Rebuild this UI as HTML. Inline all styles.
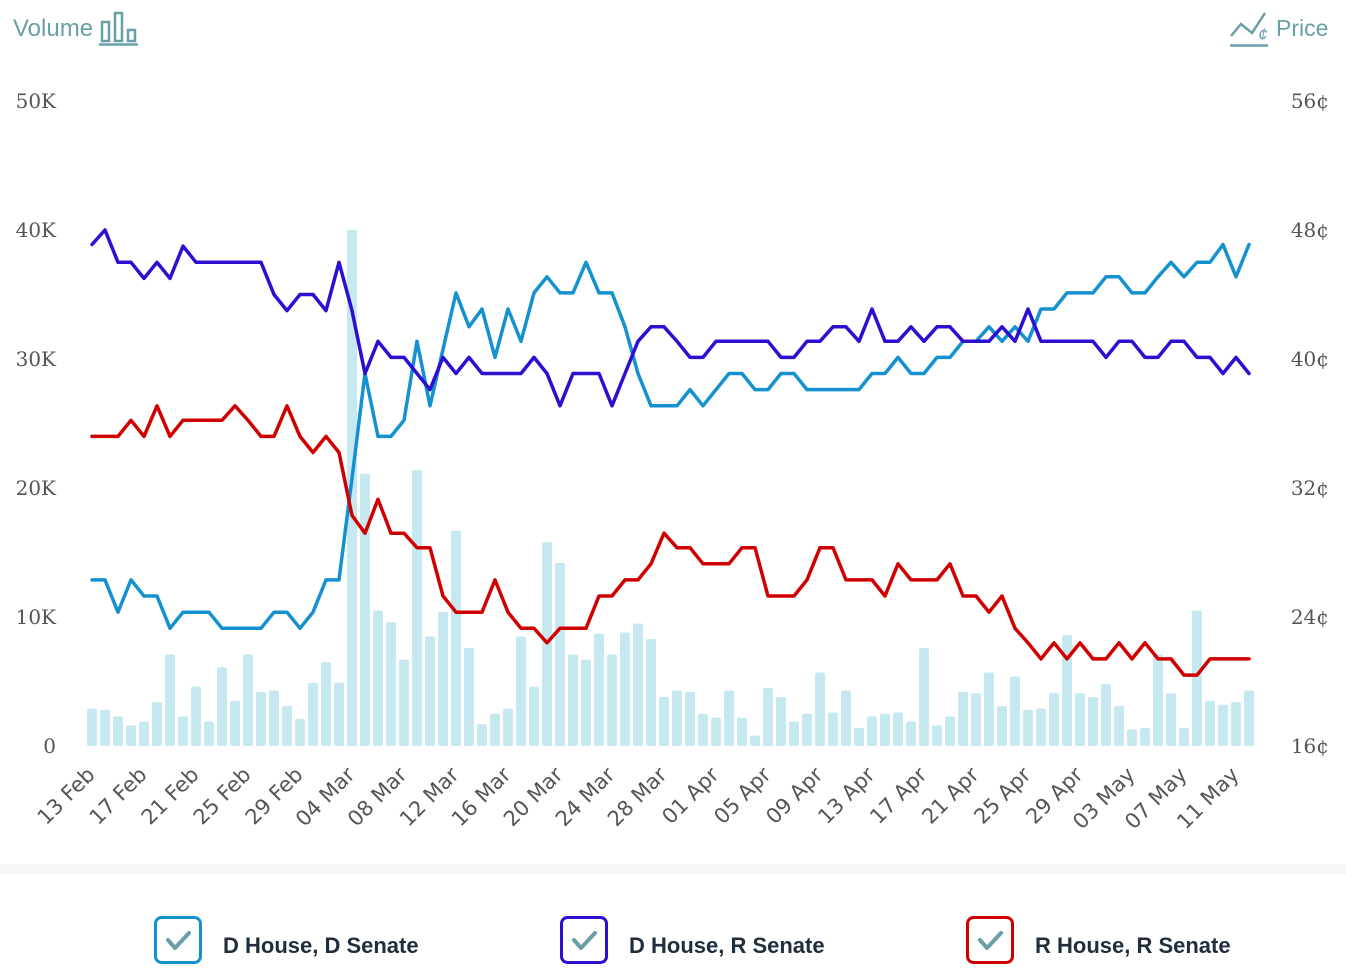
<!DOCTYPE html>
<html><head><meta charset="utf-8"><style>
html,body{margin:0;padding:0;background:#fff;width:1346px;height:978px;overflow:hidden;font-family:"Liberation Sans",sans-serif}
</style></head><body>
<svg id="chart" width="1346" height="978" viewBox="0 0 1346 978" xmlns="http://www.w3.org/2000/svg" font-family="Liberation Sans, sans-serif">
  <g>
    <text x="13" y="36" font-size="24" fill="#6a9fa8">Volume</text>
    <g fill="none" stroke="#6a9fa8" stroke-width="2.5">
      <rect x="102" y="22" width="7" height="19"/><rect x="115" y="13" width="7" height="28"/><rect x="128" y="30" width="7" height="11"/>
      <line x1="99" y1="44.5" x2="138" y2="44.5"/>
    </g>
  </g>
  <g>
    <g fill="none" stroke="#6a9fa8" stroke-width="2.5">
      <polyline points="1231,36 1241,24 1252,33 1265,13"/>
      <line x1="1230" y1="45.5" x2="1268" y2="45.5"/>
    </g>
    <text x="1258" y="40" font-size="17" fill="#6a9fa8" font-style="italic">¢</text>
    <text x="1276" y="36" font-size="23" fill="#6a9fa8">Price</text>
  </g>
  <g id="yLeft"></g>
  <g id="yRight"></g>
  <g id="bars"></g>
  <g id="lines"></g>
  <g id="xAxis"></g>
  <rect x="0" y="864" width="1346" height="10" fill="#f6f7f9"/>
  <g>
    <rect x="155.5" y="917.5" width="45" height="45" rx="6" fill="#fff" stroke="#1591d0" stroke-width="3"/>
    <polyline points="168,940 175,948 189,933" fill="none" stroke="#6a9fa8" stroke-width="4" stroke-linecap="round" stroke-linejoin="round"/>
    <text x="223" y="953" font-size="22" font-weight="bold" fill="#1f2d3d">D House, D Senate</text>
  </g>
  <g>
    <rect x="561.5" y="917.5" width="45" height="45" rx="6" fill="#fff" stroke="#2c0fd1" stroke-width="3"/>
    <polyline points="574,940 581,948 595,933" fill="none" stroke="#6a9fa8" stroke-width="4" stroke-linecap="round" stroke-linejoin="round"/>
    <text x="629" y="953" font-size="22" font-weight="bold" fill="#1f2d3d">D House, R Senate</text>
  </g>
  <g>
    <rect x="967.5" y="917.5" width="45" height="45" rx="6" fill="#fff" stroke="#d00000" stroke-width="3"/>
    <polyline points="980,940 987,948 1001,933" fill="none" stroke="#6a9fa8" stroke-width="4" stroke-linecap="round" stroke-linejoin="round"/>
    <text x="1035" y="953" font-size="22" font-weight="bold" fill="#1f2d3d">R House, R Senate</text>
  </g>
</svg>
<script>
const startDate = [2024, 1, 13];
const volumeK = [2.9,2.8,2.3,1.6,1.9,3.4,7.1,2.3,4.6,1.9,6.1,3.5,7.1,4.2,4.3,3.1,2.1,4.9,6.5,4.9,40.0,21.1,10.5,9.6,6.7,21.4,8.5,10.4,16.7,7.6,1.7,2.5,2.9,8.5,4.6,15.8,14.2,7.1,6.7,8.7,7.1,8.8,9.5,8.3,3.8,4.3,4.2,2.5,2.2,4.3,2.2,0.8,4.5,3.8,1.9,2.5,5.7,2.6,4.3,1.4,2.3,2.5,2.6,1.9,7.6,1.6,2.3,4.2,4.1,5.7,3.1,5.4,2.8,2.9,4.1,8.6,4.1,3.8,4.8,3.1,1.3,1.4,7.1,4.1,1.4,10.5,3.5,3.2,3.4,4.3];
const priceDD = [26.3,26.3,24.3,26.3,25.3,25.3,23.3,24.3,24.3,24.3,23.3,23.3,23.3,23.3,24.3,24.3,23.3,24.3,26.3,26.3,32.6,39.1,35.2,35.2,36.2,41.1,37.1,40.6,44.1,42.0,43.1,40.1,43.1,41.1,44.1,45.1,44.1,44.1,46.0,44.1,44.1,42.0,39.1,37.1,37.1,37.1,38.1,37.1,38.1,39.1,39.1,38.1,38.1,39.1,39.1,38.1,38.1,38.1,38.1,38.1,39.1,39.1,40.1,39.1,39.1,40.1,40.1,41.1,41.1,42.0,41.1,42.0,41.1,43.1,43.1,44.1,44.1,44.1,45.1,45.1,44.1,44.1,45.1,46.0,45.1,46.0,46.0,47.1,45.1,47.1];
const priceDR = [47.1,48.0,46.0,46.0,45.0,46.0,45.0,47.0,46.0,46.0,46.0,46.0,46.0,46.0,44.0,43.0,44.0,44.0,43.0,46.0,43.0,39.1,41.1,40.1,40.1,39.1,38.1,40.1,39.1,40.1,39.1,39.1,39.1,39.1,40.1,39.1,37.1,39.1,39.1,39.1,37.1,39.1,41.1,42.0,42.0,41.1,40.1,40.1,41.1,41.1,41.1,41.1,41.1,40.1,40.1,41.1,41.1,42.0,42.0,41.1,43.1,41.1,41.1,42.0,41.1,42.0,42.0,41.1,41.1,41.1,42.0,41.1,43.1,41.1,41.1,41.1,41.1,41.1,40.1,41.1,41.1,40.1,40.1,41.1,41.1,40.1,40.1,39.1,40.1,39.1];
const priceRR = [35.2,35.2,35.2,36.2,35.2,37.1,35.2,36.2,36.2,36.2,36.2,37.1,36.2,35.2,35.2,37.1,35.2,34.2,35.2,34.2,30.3,29.2,31.3,29.2,29.2,28.3,28.3,25.3,24.3,24.3,24.3,26.3,24.3,23.3,23.3,22.4,23.3,23.3,23.3,25.3,25.3,26.3,26.3,27.3,29.2,28.3,28.3,27.3,27.3,27.3,28.3,28.3,25.3,25.3,25.3,26.3,28.3,28.3,26.3,26.3,26.3,25.3,27.3,26.3,26.3,26.3,27.3,25.3,25.3,24.3,25.3,23.3,22.4,21.4,22.4,21.4,22.4,21.4,21.4,22.4,21.4,22.4,21.4,21.4,20.4,20.4,21.4,21.4,21.4,21.4];
const volTicks = [0,10,20,30,40,50];
const volTickLabels = ["0","10K","20K","30K","40K","50K"];
const priceTicks = [16,24,32,40,48,56];
const priceTickLabels = ["16¢","24¢","32¢","40¢","48¢","56¢"];
const xTickEvery = 4;

const NS = "http://www.w3.org/2000/svg";
const X0 = 92, DX = 13, BASE = 746, TOP = 101;
function xPos(i){ return X0 + i * DX; }
function yVol(v){ return BASE - (v / 50) * (BASE - TOP); }
function yPrice(p){ return BASE - ((p - 16) / 40) * (BASE - TOP); }
function mk(tag, attrs, parent){ const e = document.createElementNS(NS, tag); for (const k in attrs) e.setAttribute(k, attrs[k]); parent.appendChild(e); return e; }

const yL = document.getElementById('yLeft');
volTicks.forEach((v, i) => {
  const t = mk('text', {x: 56, y: yVol(v) + 7, 'text-anchor': 'end', 'font-size': 20, fill: '#555', 'font-family': 'DejaVu Serif, serif'}, yL);
  
  
  t.textContent = volTickLabels[i];
});
const yR = document.getElementById('yRight');
priceTicks.forEach((p, i) => {
  const t = mk('text', {x: 1329, y: yPrice(p) + 7, 'text-anchor': 'end', 'font-size': 20, fill: '#555', 'font-family': 'DejaVu Serif, serif'}, yR);
  
  
  t.textContent = priceTickLabels[i];
});

const bars = document.getElementById('bars');
volumeK.forEach((v, i) => {
  const y = yVol(v);
  const r = mk('rect', {x: xPos(i) - 5, y: y, width: 10, height: Math.max(BASE - y, 1), rx: 2, fill: '#c6e9f1'}, bars);
  
  
});

const lines = document.getElementById('lines');
[[priceDD, '#1591d0', 'line-d-house-d-senate'], [priceDR, '#2c0fd1', 'line-d-house-r-senate'], [priceRR, '#d00000', 'line-r-house-r-senate']].forEach(([arr, col, name]) => {
  const pts = arr.map((p, i) => xPos(i) + ',' + yPrice(p).toFixed(1)).join(' ');
  const pl = mk('polyline', {points: pts, fill: 'none', stroke: col, 'stroke-width': 3.5, 'stroke-linejoin': 'round', 'stroke-linecap': 'round'}, lines);
  
  
});

const xa = document.getElementById('xAxis');
const months = ['Jan','Feb','Mar','Apr','May','Jun'];
for (let i = 0; i < volumeK.length; i += xTickEvery) {
  const d = new Date(startDate[0], startDate[1], startDate[2] + i);
  const lbl = String(d.getDate()).padStart(2, '0') + ' ' + months[d.getMonth()];
  const x = xPos(i) + 4, y = 776;
  const t = mk('text', {x: x, y: y, 'text-anchor': 'end', 'font-size': 21, fill: '#555', 'font-family': 'DejaVu Sans, sans-serif', transform: 'rotate(-45 ' + x + ' ' + y + ')'}, xa);
  
  
  t.textContent = lbl;
}
</script>
</body></html>
